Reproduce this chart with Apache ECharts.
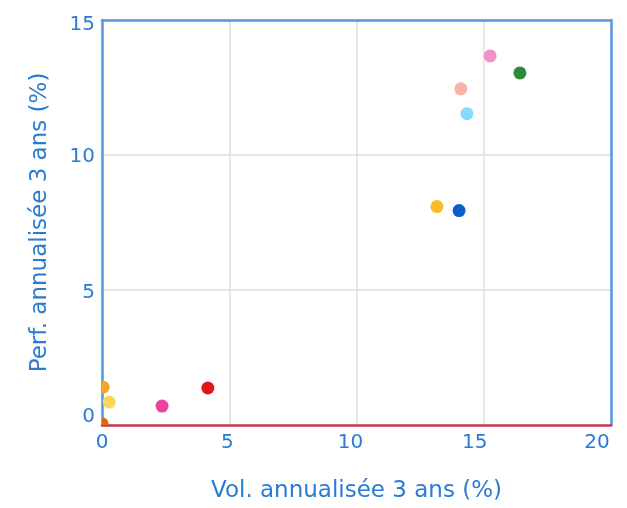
<!DOCTYPE html>
<html><head><meta charset="utf-8">
<script src="https://cdn.jsdelivr.net/npm/echarts@6/dist/echarts.min.js"></script>
<style>html,body{margin:0;padding:0;background:#fff}#c{width:627px;height:508px}</style>
</head><body><div id="c"></div>
<script>
const xTicks = [0, 5, 10, 15, 20];
const yTicks = [0, 5, 10, 15];
const vol  = [15.25, 16.42, 14.10, 14.34, 13.16, 14.03, 4.16, 2.36, 0.28, 0.04, 0.0];
const perf = [13.67, 13.04, 12.45, 11.53, 8.09, 7.94, 1.37, 0.70, 0.85, 1.40, 0.05];
const colors = ['#f191c9', '#2c8a3c', '#fbb2ab', '#86d9ff', '#fbbb2e', '#0a5ec9', '#e0161b', '#e8449e', '#fdd55c', '#f7a428', '#e2650c'];

const textColor = '#2a7bd4';
const frameColor = '#5596dd';
const font = 'DejaVu Sans';
const fs = 20;
// label nudges (style only)
const xPad = { 0: [0,0,0,0], 5: [0,4,0,0], 10: [0,12,0,0], 15: [0,18,0,0], 20: [0,28,0,0] };
const yPad = { 0: [0,0,16,0], 5: [6,0,0,0], 10: [4,0,0,0], 15: [10,0,0,0] };
const mkRich = (pads) => {
  const r = {};
  Object.keys(pads).forEach(k => { r['t' + k] = { color: textColor, fontSize: fs, fontFamily: font, padding: pads[k] }; });
  return r;
};
const xMin = xTicks[0], xMax = xTicks[xTicks.length-1];
const yMin = yTicks[0], yMax = yTicks[yTicks.length-1];
const split = { show: true, showMinLine: false, showMaxLine: false, lineStyle: { color: '#dedede', width: 1.5 } };

const chart = echarts.init(document.getElementById('c'));
chart.setOption({
  animation: false,
  grid: { left: 102, right: 16, top: 20, bottom: 82 },
  xAxis: [{
    type: 'value', min: xMin, max: xMax, interval: 5,
    name: 'Vol. annualisée 3 ans (%)', nameLocation: 'middle', nameGap: 55,
    nameTextStyle: { color: textColor, fontSize: 23, fontFamily: font },
    axisLine: { show: true, onZero: false, lineStyle: { color: '#c23a4f', width: 2.5 } },
    axisTick: { show: false },
    axisLabel: { color: textColor, fontSize: fs, fontFamily: font, margin: 8,
      formatter: v => '{t' + v + '|' + v + '}', rich: mkRich(xPad) },
    splitLine: split
  }, {
    type: 'value', position: 'top', min: xMin, max: xMax, interval: 5,
    axisLine: { show: true, onZero: false, lineStyle: { color: frameColor, width: 2.5 } },
    axisTick: { show: false }, axisLabel: { show: false }, splitLine: { show: false }
  }],
  yAxis: [{
    type: 'value', min: yMin, max: yMax, interval: 5,
    name: 'Perf. annualisée 3 ans (%)', nameLocation: 'middle', nameGap: 50,
    nameTextStyle: { color: textColor, fontSize: 23, fontFamily: font },
    axisLine: { show: true, onZero: false, lineStyle: { color: frameColor, width: 2.5 } },
    axisTick: { show: false },
    axisLabel: { color: textColor, fontSize: fs, fontFamily: font, margin: 7,
      formatter: v => '{t' + v + '|' + v + '}', rich: mkRich(yPad) },
    splitLine: split
  }, {
    type: 'value', position: 'right', min: yMin, max: yMax, interval: 5,
    axisLine: { show: true, onZero: false, lineStyle: { color: frameColor, width: 2.5 } },
    axisTick: { show: false }, axisLabel: { show: false }, splitLine: { show: false }
  }],
  series: [{
    type: 'custom',
    clip: true,
    data: vol.map((v, i) => [v, perf[i], i]),
    renderItem: function (params, api) {
      const p = api.coord([api.value(0), api.value(1)]);
      const cs = params.coordSys;
      return {
        type: 'group',
        clipPath: { type: 'rect', shape: { x: cs.x, y: cs.y, width: cs.width, height: cs.height } },
        children: [{ type: 'circle', shape: { cx: p[0], cy: p[1], r: 6.5 }, style: { fill: colors[api.value(2)] } }]
      };
    },
    z: 1
  }]
});
</script></body></html>
